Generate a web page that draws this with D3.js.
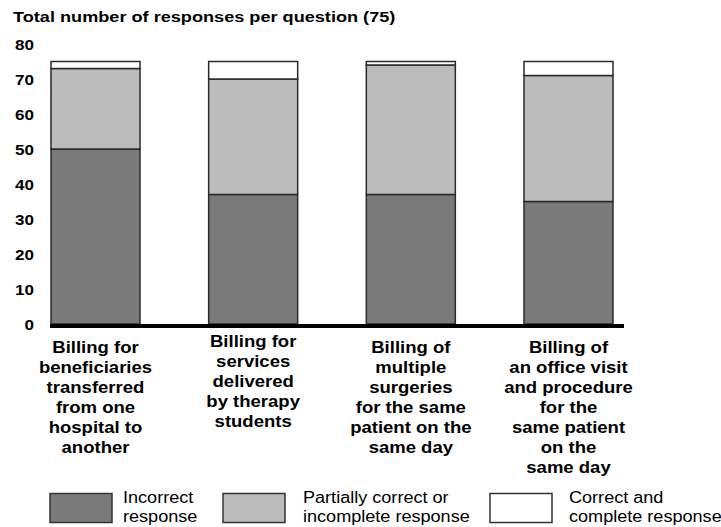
<!DOCTYPE html>
<html>
<head>
<meta charset="utf-8">
<script src="https://cdn.jsdelivr.net/npm/d3@7"></script>
<style>
  html, body { margin: 0; padding: 0; background: #fff; }
  svg { display: block; }
  text { font-family: "Liberation Sans", Arial, Helvetica, sans-serif; fill: #000; }
</style>
</head>
<body>
<svg id="chart" width="721" height="527"></svg>
<script>
// ---- data ----
const categories = [
  ["Billing for", "beneficiaries", "transferred", "from one", "hospital to", "another"],
  ["Billing for", "services", "delivered", "by therapy", "students"],
  ["Billing of", "multiple", "surgeries", "for the same", "patient on the", "same day"],
  ["Billing of", "an office visit", "and procedure", "for the", "same patient", "on the", "same day"]
];
const incorrect = [50, 37, 37, 35];
const partial   = [23, 33, 37, 36];
const correct   = [2, 5, 1, 4];
const seriesNames = ["Incorrect", "Partial", "Correct"];
const legendLabels = [
  ["Incorrect", "response"],
  ["Partially correct or", "incomplete response"],
  ["Correct and", "complete response"]
];
const yTicks = [0, 10, 20, 30, 40, 50, 60, 70, 80];
const title = "Total number of responses per question (75)";

// ---- drawing ----
const colors = ["#7a7a7a", "#bcbcbc", "#ffffff"];
const svg = d3.select("#chart");

const x = d3.scaleBand().domain(d3.range(categories.length)).range([51, 613]).paddingInner(0.4355).paddingOuter(0);
const y = d3.scaleLinear().domain([0, 80]).range([324, 44]);

// title
svg.append("text")
  .attr("transform", "translate(13,22) scale(1.17,1)")
  .attr("font-size", 15.5).attr("font-weight", "bold")
  .text(title);

// y axis labels (no line)
const yAxis = d3.axisLeft(y).tickValues(yTicks).tickSize(0).tickPadding(0);
const yg = svg.append("g").attr("transform", "translate(34,0)").call(yAxis);
yg.select(".domain").remove();
yg.selectAll(".tick text")
  .attr("font-family", "'Liberation Sans', Arial, sans-serif")
  .attr("font-size", 15.5).attr("font-weight", "bold").attr("fill", "#000")
  .attr("dy", "0.36em")
  .attr("transform", "scale(1.1,1)");

// stacked data
const rows = categories.map((c, i) => ({ i, Incorrect: incorrect[i], Partial: partial[i], Correct: correct[i] }));
const stack = d3.stack().keys(seriesNames)(rows);

svg.append("g").selectAll("g").data(stack).join("g")
  .attr("fill", (d, k) => colors[k])
  .selectAll("rect").data(d => d).join("rect")
  .attr("x", d => x(d.data.i))
  .attr("width", x.bandwidth())
  .attr("y", d => y(d[1]))
  .attr("height", d => y(d[0]) - y(d[1]))
  .attr("stroke", "#2a2a2a")
  .attr("stroke-width", 1.5);

// thick baseline
svg.append("line")
  .attr("x1", 50).attr("x2", 624)
  .attr("y1", y(0) + 2).attr("y2", y(0) + 2)
  .attr("stroke", "#000").attr("stroke-width", 4);

// category labels
const catG = svg.append("g");
categories.forEach((lines, i) => {
  const cx = x(i) + x.bandwidth() / 2;
  const y0 = i === 1 ? 347 : 353;
  const g = catG.append("g").attr("transform", `translate(${cx},${y0}) scale(1.09,1)`);
  lines.forEach((ln, j) => {
    g.append("text")
      .attr("x", 0).attr("y", j * 20)
      .attr("text-anchor", "middle")
      .attr("font-size", 17).attr("font-weight", "bold")
      .text(ln);
  });
});

// legend
const legendBoxX = [50, 223, 490];
const legendTextX = [123, 303, 569];
legendLabels.forEach((lbl, k) => {
  svg.append("rect")
    .attr("x", legendBoxX[k]).attr("y", 493.5)
    .attr("width", 62).attr("height", 29)
    .attr("fill", colors[k]).attr("stroke", "#333").attr("stroke-width", 1.5);
  const g = svg.append("g").attr("transform", `translate(${legendTextX[k]},503) scale(1.13,1)`);
  lbl.forEach((ln, j) => {
    g.append("text").attr("x", 0).attr("y", j * 19)
      .attr("font-size", 16)
      .text(ln);
  });
});
</script>
</body>
</html>
